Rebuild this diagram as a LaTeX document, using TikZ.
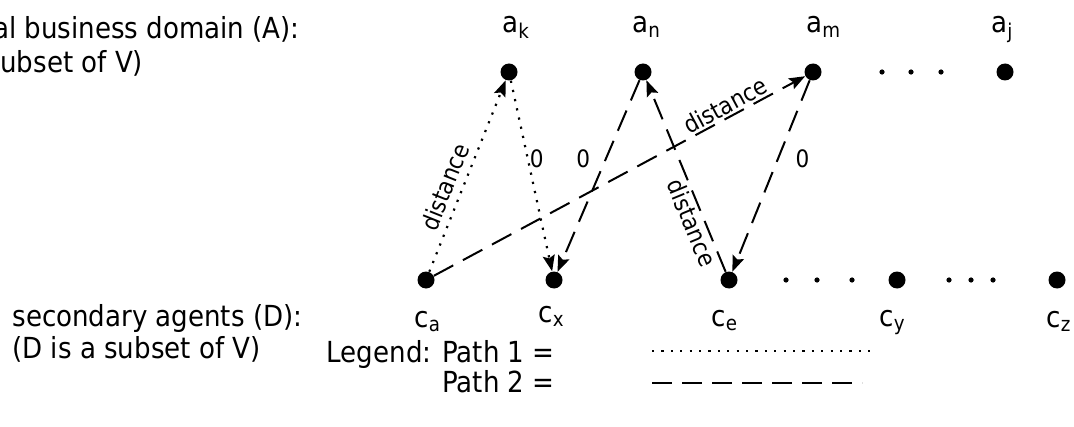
\documentclass[tikz,border=0pt]{standalone}
\usepackage{fontspec}
\setmainfont{DejaVu Sans Condensed}
\usetikzlibrary{arrows.meta,positioning}

\begin{document}
\begin{tikzpicture}[
    x=0.5pt, y=-0.5pt,
    agent/.style={circle,fill,inner sep=0pt,minimum size=8.5pt},
    gap/.style={circle,fill,inner sep=0pt,minimum size=2.6pt},
    agentlbl/.style={inner sep=0pt,anchor=base west,font=\fontsize{14.5}{17}\selectfont},
    txt/.style={inner sep=0pt,font=\fontsize{14.5}{17}\selectfont},
    tag/.style={font=\fontsize{12}{14}\selectfont},
    pathone/.style={line width=1.1pt,dash pattern=on 1.1pt off 3.6pt},
    pathtwo/.style={line width=1pt,dash pattern=on 11pt off 5.5pt},
    >={Stealth[length=8pt,width=6pt,inset=1.4pt]}
  ]
  \useasboundingbox (0,0) rectangle (1074,427);

  % left-hand captions
  \node[txt,anchor=base east] (capA) at (300,39) {al business domain (A):};
  \node[txt,anchor=base west] (capAs) at (0,73) {ubset of V)};
  \node[txt,anchor=base west] (capD) at (12,326) {secondary agents (D):};
  \node[txt,anchor=base west] (capDs) at (12,358) {(D is a subset of V)};

  % business domain A
  \node[agent] (ak) at (509,72) {};
  \node[agent] (an) at (643,72) {};
  \node[agent] (am) at (813,72) {};
  \node[agent] (aj) at (1005,72) {};
  \foreach \x [count=\i] in {882,911,941}
    \node[gap] (ga\i) at (\x,72) {};
  \node[agentlbl] (lak) at (502,33) {a\textsubscript{k}};
  \node[agentlbl] (lan) at (632,33) {a\textsubscript{n}};
  \node[agentlbl] (lam) at (806,33) {a\textsubscript{m}};
  \node[agentlbl] (laj) at (991,33) {a\textsubscript{j}};

  % secondary agents D
  \node[agent] (ca) at (426,280) {};
  \node[agent] (cx) at (554,280) {};
  \node[agent] (ce) at (729,280) {};
  \node[agent] (cy) at (897,280) {};
  \node[agent] (cz) at (1057,280) {};
  \foreach \x [count=\i] in {786,817,852}
    \node[gap] (gc\i) at (\x,280) {};
  \foreach \x [count=\i] in {949,971,993}
    \node[gap] (gd\i) at (\x,280) {};
  \node[agentlbl] (lca) at (414,327) {c\textsubscript{a}};
  \node[agentlbl] (lcx) at (538,322) {c\textsubscript{x}};
  \node[agentlbl] (lce) at (711,326) {c\textsubscript{e}};
  \node[agentlbl] (lcy) at (879,326) {c\textsubscript{y}};
  \node[agentlbl] (lcz) at (1046,327) {c\textsubscript{z}};

  % path 1
  \draw[->,pathone] (ca) -- (ak) node[tag,pos=0.41,sloped,above] {distance};
  \draw[->,pathone] (ak) -- (cx) node[tag,pos=0.41,right,inner sep=0.5pt] {0};

  % path 2
  \draw[->,pathtwo] (ca) -- (am) node[tag,pos=0.8,sloped,above,inner sep=1pt] {distance};
  \draw[->,pathtwo] (am) -- (ce) node[tag,pos=0.41,right=5pt] {0};
  \draw[->,pathtwo] (ce) -- (an) node[tag,pos=0.28,sloped,below,inner sep=1pt] {distance};
  \draw[->,pathtwo] (an) -- (cx) node[tag,pos=0.41,left=4pt] {0};

  % legend
  \node[txt,anchor=base east] (leg1) at (555,362) {Legend: Path 1 =};
  \node[txt,anchor=base east] (leg2) at (555,392) {Path 2 =};
  \coordinate (l1a) at (652,351);
  \coordinate (l1b) at (872,351);
  \coordinate (l2a) at (652,383);
  \coordinate (l2b) at (862,383);
  \draw[pathone,line width=0.9pt] (l1a) -- (l1b);
  \draw[line width=1.3pt,dash pattern=on 10pt off 5pt] (l2a) -- (l2b);
\end{tikzpicture}
\end{document}
